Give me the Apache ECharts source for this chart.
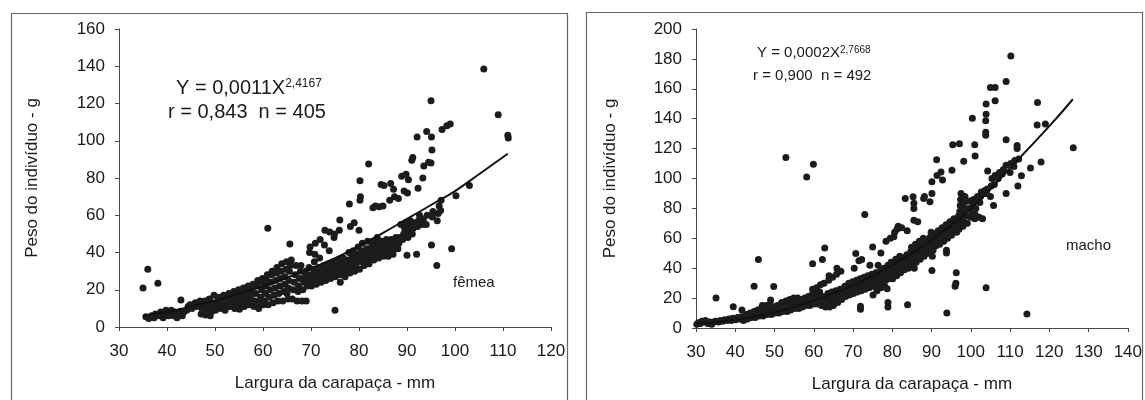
<!DOCTYPE html>
<html>
<head>
<meta charset="utf-8">
<script src="https://cdn.jsdelivr.net/npm/echarts@6/dist/echarts.min.js"></script>
<style>
  html, body { margin: 0; padding: 0; background: #fff; }
  #chart { width: 1145px; height: 400px; }
</style>
</head>
<body>
<div id="chart"></div>
<script>
// Carapace width (mm) vs individual weight (g), females
const femalePoints = [
  [35.0,21],[35.6,5.5],[36.0,31],[36.2,4.5],[36.8,6],[37.3,5],[37.6,7],[38.1,23.5],[38.3,6],[38.7,8],[39.2,5],[39.5,7],[39.8,9],[40.3,6],[40.5,8],[40.9,9],[41.4,6],[41.7,8],[42.1,5],[42.4,7],[42.8,8.5],[42.9,14.5],[43.2,6],[43.5,8],
  [44.1,9],[44.4,11],[44.8,12],[45.2,10],[45.5,12],[45.9,13],[46.2,11],[46.6,12],[46.9,14],[47.1,7],[47.3,10],[47.6,12],[47.9,14],[48.0,6.5],[48.3,9],[48.5,12],[48.8,15],[49.0,6],[49.2,8],[49.4,11],[49.6,13],[49.8,17],[50.1,9],[50.3,11],[50.5,13],[50.7,15],[50.9,16],
  [51.2,10],[51.4,12],[51.6,14],[51.8,17],[52.1,9],[52.3,11],[52.5,14],[52.7,16],[52.9,18],[53.1,11],[53.3,13],[53.5,15],[53.7,17],[53.9,19],[54.1,10],[54.3,12],[54.5,14],[54.7,17],[54.9,20],[55.1,9.5],[55.3,12],[55.5,15],[55.7,18],[55.9,21],[56.1,11],[56.3,13],[56.5,16],[56.7,19],[56.9,22],
  [57.1,12],[57.3,15],[57.5,17],[57.7,20],[57.9,23],[58.1,11],[58.3,14],[58.5,18],[58.7,22],[58.9,25],[59.1,10],[59.3,13],[59.5,16],[59.7,20],[59.8,24],[59.9,26],[60.1,12],[60.3,14],[60.5,18],[60.6,22],[60.8,25],[60.9,28],[61.0,53],[61.1,12],[61.3,16],[61.5,20],[61.6,24],[61.8,28],[61.9,30],
  [62.1,13],[62.3,17],[62.5,21],[62.6,25],[62.8,29],[62.9,32],[63.1,14],[63.3,18],[63.5,22],[63.6,26],[63.8,30],[63.9,34],[64.1,14],[64.3,19],[64.5,23],[64.6,27],[64.8,31],[64.9,35],[65.0,18],[65.2,15],[65.3,21],[65.4,25],[65.5,30],[65.6,44.5],[65.7,33],[65.9,36],
  [66.1,15],[66.3,20],[66.5,24],[66.7,28],[66.9,33],[67.1,14],[67.3,19],[67.4,22],[67.6,26],[67.8,30],[67.9,33],[68.1,14],[68.3,20],[68.5,24],[68.7,27],[68.9,30],[69.0,14],[69.2,22],[69.3,25],[69.4,28],[69.6,32],[69.7,40],[69.8,43],
  [70.1,22],[70.2,25],[70.4,28],[70.5,31],[70.7,35],[70.8,39],[70.9,45],[71.1,23],[71.3,26],[71.5,29],[71.6,32],[71.8,37],[71.9,47],[72.1,24],[72.3,27],[72.5,30],[72.7,33],[72.8,44],[72.9,52],[73.1,25],[73.3,28],[73.5,31],[73.6,34],[73.8,41],[73.9,51],[74.1,26],[74.3,29],[74.5,32],[74.6,35],[74.8,48],[74.9,50],
  [75.0,9],[75.1,27],[75.3,30],[75.5,33],[75.7,36],[75.9,52],[76.1,24],[76.2,28],[76.4,31],[76.5,34],[76.7,37],[76.0,57.5],[77.1,27],[77.3,30],[77.5,33],[77.7,36],[77.9,40],[78.1,29],[78.3,32],[78.5,35],[78.6,38],[78.8,41],[78.2,54],[78.0,66],[79.1,30],[79.3,33],[79.5,36],[79.6,39],[79.8,43],[79.0,56],
  [80.1,31],[80.2,35],[80.4,38],[80.5,41],[80.7,45],[80.0,52],[80.2,68],[80.3,70],[80.2,78.5],[81.1,33],[81.3,36],[81.5,39],[81.6,42],[81.8,46],[82.1,34],[82.3,37],[82.5,40],[82.6,43],[82.8,46],[82.9,64],[82.0,87.5],[83.1,36],[83.3,39],[83.5,42],[83.6,45],[83.8,48],[83.4,65],
  [84.1,37],[84.3,40],[84.5,43],[84.7,46],[84.2,64.5],[84.6,76.5],[85.1,38],[85.3,41],[85.5,44],[85.7,47],[85.0,65],[85.2,76],[86.1,38],[86.3,41],[86.5,44],[86.7,47],[86.4,68],[86.6,77],[87.1,39],[87.3,42],[87.5,45],[87.7,48],[87.4,70],[87.2,74],
  [88.1,42],[88.3,45],[88.5,48],[88.7,55],[88.2,69],[88.9,81],[89.1,47],[89.3,50],[89.5,53],[89.7,56],[89.4,73],[89.8,82],[90.0,38.5],[90.2,48],[90.4,51],[90.5,54],[90.7,57],[90.1,72],[90.3,79],[91.1,50],[91.3,53],[91.5,56],[91.0,89.5],[91.2,91],
  [92.0,39],[92.2,54],[92.4,57],[92.6,60],[92.3,74.5],[92.1,102],[93.2,55],[93.4,58],[93.3,80],[93.5,86.5],[94.0,55],[94.2,60],[94.5,88.5],[94.1,105],[95.1,44],[95.3,59],[95.4,62],[95.0,88],[95.2,95],[95.1,102],[95.0,121.5],
  [96.2,33],[96.3,57],[96.5,61],[96.7,65],[97.0,62.5],[97.1,68],[97.3,106],[98.3,108],[99.0,109],[99.3,42],[100.2,70.5],[103.0,76],[106.0,138.5],[109.0,114],[111.0,103],[111.1,101.5]
];

// Carapace width (mm) vs individual weight (g), males
const malePoints = [
  [30.2,2.5],[30.6,3.5],[31.1,3],[31.5,4.5],[32.0,4],[32.4,5],[33.0,3],[33.5,4],[34.0,2.5],[34.5,4],[35.0,4.5],[35.1,20],[35.7,4],[36.2,5],[36.8,4.5],[37.3,5.5],[37.9,5],[38.4,6],[39.0,5],[39.4,6.5],[39.5,14.2],[40.1,5.5],[40.6,7],[41.2,6],[41.6,7.5],[41.7,12],[42.1,5],[42.4,7],[42.8,9],[43.1,6],[43.4,8],[43.8,10],
  [44.1,7],[44.4,9],[44.8,11],[44.8,28],[45.1,7],[45.4,10],[45.7,12],[45.9,45.8],[46.1,8],[46.3,10],[46.6,13],[46.9,15],[47.1,8],[47.4,11],[47.6,13],[47.9,15],[48.1,9],[48.4,11],[48.6,14],[48.9,16],[49.0,18.8],[49.2,9],[49.4,12],[49.7,14],[49.8,27.7],[50.1,10],[50.4,12],[50.7,15],
  [51.1,10],[51.3,13],[51.6,15],[51.8,17],[52.1,11],[52.4,13],[52.6,16],[52.9,18],[52.9,114],[53.2,11],[53.4,14],[53.6,16],[53.9,19],[54.1,12],[54.4,15],[54.6,17],[54.9,20],[55.1,13],[55.4,16],[55.6,18],[55.9,20],[56.2,13],[56.5,16],[56.8,19],[57.1,14],[57.4,17],[57.7,20],[58.0,15],[58.2,101],[58.3,18],[58.6,21],
  [59.0,15],[59.2,18],[59.5,22],[59.7,26],[59.7,43],[59.9,109.5],[60.1,16],[60.3,19],[60.5,23],[60.7,27],[61.1,16],[61.3,20],[61.5,24],[61.7,29],[62.0,15],[62.2,18],[62.2,45.8],[62.4,21],[62.6,30],[62.8,53.5],[63.0,14],[63.2,17],[63.4,20],[63.6,23],[63.8,32],[63.9,35],
  [64.0,14],[64.2,18],[64.4,21],[64.6,24],[64.8,34],[65.0,15],[65.2,19],[65.4,22],[65.6,25],[65.8,36],[65.9,40],[66.1,17],[66.3,20],[66.5,23],[66.7,26],[66.9,38],[67.1,19],[67.4,22],[67.6,25],[67.9,28],[68.1,21],[68.4,24],[68.6,27],[68.9,30],[69.1,22],[69.4,25],[69.6,28],[69.9,31],
  [70.1,23],[70.4,26],[70.6,29],[70.7,49.8],[70.9,32],[70.3,40],[71.1,24],[71.4,27],[71.6,30],[71.8,33],[71.5,45],[71.9,12.6],[71.9,14.5],[72.1,25],[72.4,28],[72.6,31],[72.8,34],[72.2,45.8],[73.0,76],[73.1,26],[73.4,29],[73.6,32],[73.8,35],[74.1,27],[74.4,30],[74.6,33],[74.8,36],[74.3,42],
  [75.0,54.2],[75.1,22],[75.2,28],[75.4,31],[75.6,34],[75.8,37],[76.1,25],[76.3,29],[76.5,32],[76.7,35],[76.9,38],[76.4,42],[77.1,27],[77.1,50.2],[77.3,30],[77.5,33],[77.7,36],[77.9,40],[78.1,28],[78.3,32],[78.5,35],[78.7,38],[78.9,42],[78.4,58],[78.7,26.3],[78.9,17],[78.9,14],
  [79.1,33],[79.3,37],[79.5,40],[79.7,44],[79.5,60],[80.1,33],[80.3,37],[80.5,40],[80.7,43],[80.9,46],[80.4,61],[80.6,64],[81.1,35],[81.3,39],[81.5,42],[81.7,45],[81.9,48],[81.2,66],[81.5,68],[82.1,37],[82.3,41],[82.5,44],[82.7,47],[82.4,67],[83.1,39],[83.3,43],[83.5,46],[83.7,49],[83.8,65],[83.3,86.7],[83.9,15.5],
  [84.1,40],[84.3,44],[84.5,48],[84.7,51],[84.9,54],[85.1,42.5],[85.3,46],[85.3,87.8],[85.5,50],[85.5,83.4],[85.5,80],[85.5,72],[85.6,40],[85.7,53],[85.9,56],[86.1,44],[86.3,48],[86.5,52],[86.7,55],[86.9,58],[86.5,71],[87.1,46],[87.3,50],[87.5,54],[87.7,57],[87.9,60],
  [88.0,86.7],[88.2,88],[88.1,48],[88.3,52],[88.5,56],[88.7,59],[89.1,50],[89.3,54],[89.5,58],[89.6,84.5],[89.7,61],[89.9,64],[90.1,38.5],[90.1,90],[90.1,97.8],[90.2,48],[90.4,52],[90.6,56],[90.8,60],[90.9,63],[91.1,55],[91.3,59],[91.3,112.6],[91.4,102],[91.5,62],[91.7,65],
  [92.1,56],[92.3,60],[92.4,104.4],[92.5,64],[92.7,67],[92.8,99],[93.1,58],[93.3,62],[93.5,66],[93.7,69],[93.8,50.2],[93.8,52],[93.9,10],[94.1,60],[94.3,64],[94.5,68],[94.7,71],[95.1,62],[95.2,105.5],[95.3,66],[95.4,122.6],[95.5,70],[95.7,73],
  [96.0,28],[96.2,30],[96.3,37],[96.4,64],[96.6,68],[96.8,72],[96.9,75],[97.0,66],[97.1,70],[97.1,74],[97.1,123.2],[97.2,78],[97.3,82],[97.4,86],[97.5,90],[98.0,68],[98.1,72],[98.2,76],[98.2,111.5],[98.3,80],[98.4,84],[98.5,88],[99.1,70],[99.3,75],[99.5,80],[99.7,85],
  [100.1,74],[100.3,78],[100.4,140.3],[100.5,82],[100.7,86],[101.0,73],[101.1,76],[101.0,122.6],[101.1,115],[101.3,80],[101.5,85],[101.7,88],[102.1,74],[102.3,84],[102.5,88],[102.7,91],[103.0,73],[103.3,90],[103.6,92],[103.9,27],[103.9,149.8],[103.9,143],[103.8,138.7],[103.8,131],[103.8,129],
  [104.0,90],[104.2,93],[104.3,105],[105.0,160.8],[105.0,88],[105.2,95],[105.4,100],[105.8,82],[106.0,96],[106.2,102],[106.2,152],[106.2,160.8],[107.0,100],[107.3,104],[108.0,103],[108.3,106],[109.0,90],[109.0,108.8],[109.0,125.9],[109.0,164.8],
  [110.0,104],[110.2,110],[110.2,181.9],[111.0,108],[111.2,112],[111.8,122],[111.8,120],[112.0,95],[112.2,113],[112.9,101.8],[114.3,9.3],[115.2,107],[116.9,135.8],[117.0,150.9],[117.9,111],[119.0,136.5],[126.1,120.6]
];

// Fitted power curves
const femaleCurve = [[35,6],[40,8],[45,11],[50,14],[55,18],[60,22],[65,26.5],[70,31.5],[75,37],[80,43.5],[85,50.5],[90,58],[95,65.5],[100,73],[105,82],[111,93]];
const maleCurve = [[30,3],[40,5.5],[50,10.5],[60,18.5],[70,28.5],[80,42],[90,59],[100,80],[110,107],[120,135],[126,153]];

// Axis ranges
const femaleX = { min: 30, max: 120, step: 10 };
const femaleY = { min: 0, max: 160, step: 20 };
const maleX = { min: 30, max: 140, step: 10 };
const maleY = { min: 0, max: 200, step: 20 };

const FONT = '"Liberation Sans", Arial, sans-serif';
const INK = '#1a1a1a';
const AXIS = '#4a4a4a';

function xAxisCfg(r, idx) {
  return {
    type: 'value', gridIndex: idx, min: r.min, max: r.max, interval: r.step,
    name: 'Largura da carapaça - mm', nameLocation: 'middle', nameGap: 48,
    nameTextStyle: { fontFamily: FONT, fontSize: 17, color: INK },
    axisLine: { show: true, onZero: false, lineStyle: { color: AXIS, width: 1 } },
    axisTick: { show: true, length: 4, lineStyle: { color: AXIS } },
    axisLabel: { fontFamily: FONT, fontSize: 17, color: INK, margin: 16 },
    splitLine: { show: false }
  };
}
function yAxisCfg(r, idx, gap) {
  return {
    type: 'value', gridIndex: idx, min: r.min, max: r.max, interval: r.step,
    name: 'Peso do indivíduo - g', nameLocation: 'middle', nameGap: gap,
    nameTextStyle: { fontFamily: FONT, fontSize: 17, color: INK },
    axisLine: { show: true, lineStyle: { color: AXIS, width: 1 } },
    axisTick: { show: true, length: 4, lineStyle: { color: AXIS } },
    axisLabel: { fontFamily: FONT, fontSize: 17, color: INK, margin: 14 },
    splitLine: { show: false }
  };
}

const chart = echarts.init(document.getElementById('chart'), null, { renderer: 'canvas' });

chart.setOption({
  animation: false,
  backgroundColor: '#ffffff',
  grid: [
    { left: 119, top: 29, width: 432, height: 298 },
    { left: 696, top: 29, width: 432, height: 299 }
  ],
  xAxis: [xAxisCfg(femaleX, 0), xAxisCfg(maleX, 1)],
  yAxis: [yAxisCfg(femaleY, 0, 78), yAxisCfg(maleY, 1, 77)],
  series: [
    {
      type: 'scatter', xAxisIndex: 0, yAxisIndex: 0, data: femalePoints,
      symbolSize: 7, itemStyle: { color: '#1c1c1c', opacity: 1 }
    },
    {
      type: 'line', xAxisIndex: 0, yAxisIndex: 0, data: femaleCurve,
      smooth: true, showSymbol: false, lineStyle: { color: '#111', width: 2 }, z: 3
    },
    {
      type: 'scatter', xAxisIndex: 1, yAxisIndex: 1, data: malePoints,
      symbolSize: 7, itemStyle: { color: '#1c1c1c', opacity: 1 }
    },
    {
      type: 'line', xAxisIndex: 1, yAxisIndex: 1, data: maleCurve,
      smooth: true, showSymbol: false, lineStyle: { color: '#111', width: 2 }, z: 3
    }
  ],
  graphic: [
    // panel frames
    { type: 'rect', shape: { x: 11.5, y: 13.5, width: 556, height: 400 },
      style: { fill: null, stroke: '#666', lineWidth: 1.2 }, silent: true },
    { type: 'rect', shape: { x: 586.5, y: 12.5, width: 556, height: 400 },
      style: { fill: null, stroke: '#666', lineWidth: 1.2 }, silent: true },
    // regression annotations, females
    { type: 'text', x: 176, y: 88, silent: true,
      style: { text: '{m|Y = 0,0011X}{s|2,4167}', verticalAlign: 'middle', fill: INK, font: '20px ' + FONT,
        rich: { m: { fontFamily: FONT, fontSize: 20, fill: INK, verticalAlign: 'bottom' },
                s: { fontFamily: FONT, fontSize: 12, fill: INK, verticalAlign: 'top' } } } },
    { type: 'text', x: 168, y: 112, silent: true,
      style: { text: 'r = 0,843  n = 405', verticalAlign: 'middle', fill: INK, font: '20px ' + FONT } },
    { type: 'text', x: 453, y: 283, silent: true,
      style: { text: 'fêmea', verticalAlign: 'middle', fill: INK, font: '15px ' + FONT } },
    // regression annotations, males
    { type: 'text', x: 757, y: 53, silent: true,
      style: { text: '{m|Y = 0,0002X}{s|2,7668}', verticalAlign: 'middle', fill: INK, font: '15px ' + FONT,
        rich: { m: { fontFamily: FONT, fontSize: 15, fill: INK, verticalAlign: 'bottom' },
                s: { fontFamily: FONT, fontSize: 10, fill: INK, verticalAlign: 'top' } } } },
    { type: 'text', x: 753, y: 76, silent: true,
      style: { text: 'r = 0,900  n = 492', verticalAlign: 'middle', fill: INK, font: '15px ' + FONT } },
    { type: 'text', x: 1066, y: 246, silent: true,
      style: { text: 'macho', verticalAlign: 'middle', fill: INK, font: '15px ' + FONT } }
  ]
});
</script>
</body>
</html>
